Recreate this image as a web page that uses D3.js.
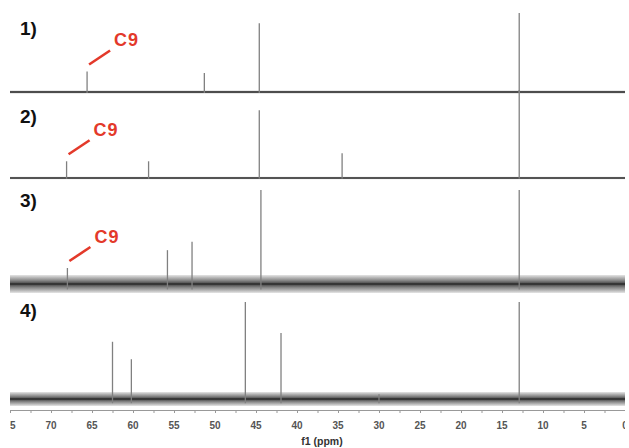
<!DOCTYPE html>
<html><head><meta charset="utf-8">
<script src="https://cdn.jsdelivr.net/npm/d3@7"></script>
<style>
html,body{margin:0;padding:0;background:#fff;}
svg{display:block;font-family:"Liberation Sans",Arial,sans-serif;}
</style></head>
<body>
<svg id="chart" width="629" height="448"></svg>
<script>
// ---- data (ppm positions and relative intensities, 0-100 of panel height) ----
const traceNames = ["1)", "2)", "3)", "4)"];
const peaks1 = [[65.6, 26], [51.3, 24], [44.6, 87], [12.9, 100]];
const peaks2 = [[68.1, 19], [58.1, 19], [44.6, 77], [34.5, 28], [12.9, 100]];
const peaks3 = [[68.0, 17], [55.8, 36], [52.8, 45], [44.4, 100], [12.9, 100]];
const peaks4 = [[62.5, 59], [60.2, 41], [46.3, 100], [41.95, 68], [30.0, 5], [12.9, 100]];
const noiseLevel = [1.6, 1.3, 9, 7];           // noise half-amplitude of each trace
const c9Peak = [65.6, 68.1, 68.0, null];       // ppm of the labelled C9 signal
const c9Label = "C9";
const xTicks = [75, 70, 65, 60, 55, 50, 45, 40, 35, 30, 25, 20, 15, 10, 5, 0];
const axisTitle = "f1 (ppm)";

// ---- layout ----
const svg = d3.select("#chart");
const clipL = 10, clipR = 625;
const x = d3.scaleLinear().domain([75, 0]).range([10, 625]);
const panels = [
  {base: 92, top: 13},
  {base: 178, top: 90},
  {base: 284, top: 190},
  {base: 399, top: 302}
];
const labelY = [35, 123, 207, 317];
const allPeaks = [peaks1, peaks2, peaks3, peaks4];

const defs = svg.append("defs");
defs.append("clipPath").attr("id", "clip").append("rect")
  .attr("x", clipL).attr("y", 0).attr("width", clipR - clipL).attr("height", 448);
const grad = defs.append("linearGradient").attr("id", "noise")
  .attr("x1", 0).attr("y1", 0).attr("x2", 0).attr("y2", 1);
grad.append("stop").attr("offset", "0%").attr("stop-color", "#000").attr("stop-opacity", 0.1);
grad.append("stop").attr("offset", "30%").attr("stop-color", "#111").attr("stop-opacity", 0.5);
grad.append("stop").attr("offset", "50%").attr("stop-color", "#111").attr("stop-opacity", 0.8);
grad.append("stop").attr("offset", "70%").attr("stop-color", "#111").attr("stop-opacity", 0.5);
grad.append("stop").attr("offset", "100%").attr("stop-color", "#000").attr("stop-opacity", 0.1);

const g = svg.append("g").attr("clip-path", "url(#clip)");

panels.forEach((p, i) => {
  const y = d3.scaleLinear().domain([0, 100]).range([p.base, p.top]);
  const n = noiseLevel[i];
  // noise band
  g.append("rect")
    .attr("x", x(75)).attr("width", x(0) - x(75))
    .attr("y", p.base - n).attr("height", 2 * n)
    .attr("fill", "url(#noise)");
  g.append("line")
    .attr("x1", x(75)).attr("x2", x(0))
    .attr("y1", p.base).attr("y2", p.base)
    .attr("stroke", "#222").attr("stroke-width", 1);
  // peaks
  g.selectAll(null).data(allPeaks[i]).enter().append("line")
    .attr("x1", d => x(d[0])).attr("x2", d => x(d[0]))
    .attr("y1", p.base + n * 0.6).attr("y2", d => y(d[1]))
    .attr("stroke", "#808080").attr("stroke-width", 1.3);
  // trace label
  g.append("text")
    .attr("x", 20).attr("y", labelY[i])
    .attr("font-size", 19).attr("font-weight", "bold").attr("fill", "#111")
    .text(traceNames[i]);
  // C9 annotation
  if (c9Peak[i] !== null) {
    const pk = allPeaks[i].find(d => d[0] === c9Peak[i]);
    const px = x(pk[0]), py = y(pk[1]);
    g.append("line")
      .attr("x1", px + 2).attr("y1", py - 7)
      .attr("x2", px + 23).attr("y2", py - 21)
      .attr("stroke", "#e3392a").attr("stroke-width", 2.6);
    g.append("text")
      .attr("x", px + 27).attr("y", py - 25)
      .attr("font-size", 18).attr("font-weight", "bold").attr("fill", "#e3392a")
      .attr("letter-spacing", 1)
      .text(c9Label);
  }
});

// ---- axis ----
const axisY = 410;
const axisG = g.append("g").attr("transform", `translate(0,${axisY})`);
axisG.call(d3.axisBottom(x).tickValues(d3.range(0, 75.01, 2.5)).tickSize(3).tickFormat(""));
axisG.select(".domain").attr("stroke", "#999").attr("stroke-width", 1);
axisG.selectAll(".tick line").attr("stroke", "#999");
g.selectAll(null).data(xTicks).enter().append("text")
  .attr("x", d => x(d)).attr("y", 428.5)
  .attr("text-anchor", "middle").attr("font-size", 10).attr("font-weight", "bold")
  .attr("fill", "#555").text(d => d);
svg.append("text")
  .attr("x", 322).attr("y", 445)
  .attr("text-anchor", "middle").attr("font-size", 10.5).attr("font-weight", "bold")
  .attr("fill", "#333").text(axisTitle);
</script>
</body></html>
